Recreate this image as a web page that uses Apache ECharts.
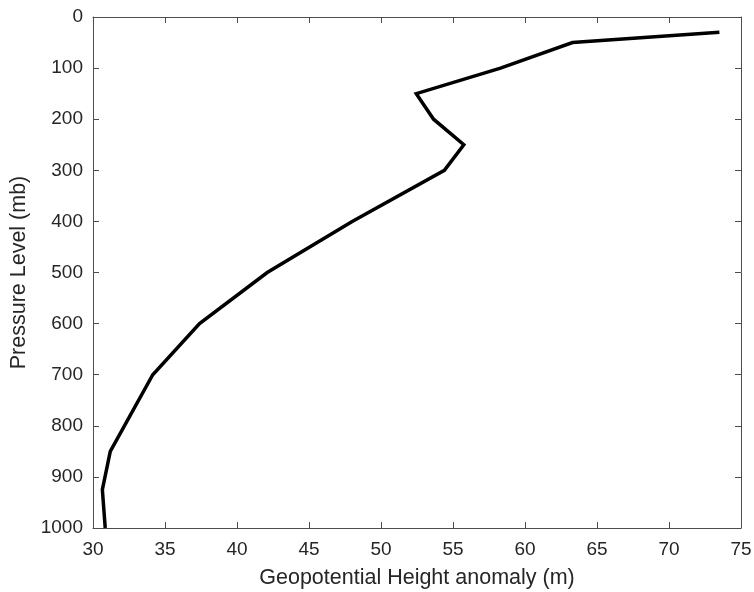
<!DOCTYPE html>
<html>
<head>
<meta charset="utf-8">
<script src="https://cdn.jsdelivr.net/npm/echarts@6/dist/echarts.min.js"></script>
<style>html,body{margin:0;padding:0;background:#fff}#c{width:754px;height:592px}</style>
</head>
<body>
<div id="c"></div>
<script>
const pressureLevels = [30, 50, 100, 150, 200, 250, 300, 400, 500, 600, 700, 850, 925, 1000];
const heightAnomaly = [73.5, 63.3, 58.3, 52.45, 53.65, 55.75, 54.4, 48.0, 42.1, 37.4, 34.15, 31.2, 30.65, 30.85];
const xTicks = [30, 35, 40, 45, 50, 55, 60, 65, 70, 75];
const yTicks = [0, 100, 200, 300, 400, 500, 600, 700, 800, 900, 1000];

const chart = echarts.init(document.getElementById('c'), null, {renderer: 'canvas'});
const font = '"Liberation Sans", Arial, Helvetica, sans-serif';
const axisColor = '#262626';
const lineStyle = {color: '#4d4d4d', width: 1};
const points = pressureLevels.map((p, i) => [heightAnomaly[i], p]);
const plain = v => String(v);

chart.setOption({
  animation: false,
  backgroundColor: '#fff',
  grid: {left: 93, right: 13, top: 17, bottom: 64, containLabel: false, outerBoundsMode: 'none'},
  xAxis: [{
    type: 'value', min: xTicks[0], max: xTicks[xTicks.length - 1], interval: 5,
    position: 'bottom',
    name: 'Geopotential Height anomaly (m)', nameLocation: 'middle', nameGap: 39,
    nameTextStyle: {fontFamily: font, fontSize: 21.5, color: axisColor},
    axisLine: {show: true, onZero: false, lineStyle},
    axisTick: {show: true, inside: true, length: 6, lineStyle},
    axisLabel: {fontFamily: font, fontSize: 19, color: axisColor, margin: 12, formatter: plain},
    splitLine: {show: false}
  }, {
    type: 'value', min: xTicks[0], max: xTicks[xTicks.length - 1], interval: 5,
    position: 'top',
    axisLine: {show: true, onZero: false, lineStyle},
    axisTick: {show: true, inside: true, length: 6, lineStyle},
    axisLabel: {show: false},
    splitLine: {show: false}
  }],
  yAxis: [{
    type: 'value', min: yTicks[0], max: yTicks[yTicks.length - 1], interval: 100, inverse: true,
    position: 'left',
    name: 'Pressure Level (mb)', nameLocation: 'middle', nameGap: 58, nameRotate: 90,
    nameTextStyle: {fontFamily: font, fontSize: 21.5, color: axisColor},
    axisLine: {show: true, onZero: false, lineStyle},
    axisTick: {show: true, inside: true, length: 6, lineStyle},
    axisLabel: {fontFamily: font, fontSize: 19, color: axisColor, margin: 10, formatter: plain},
    splitLine: {show: false}
  }, {
    type: 'value', min: yTicks[0], max: yTicks[yTicks.length - 1], interval: 100, inverse: true,
    position: 'right',
    axisLine: {show: true, onZero: false, lineStyle},
    axisTick: {show: true, inside: true, length: 6, lineStyle},
    axisLabel: {show: false},
    splitLine: {show: false}
  }],
  series: [{
    type: 'line',
    xAxisIndex: 0, yAxisIndex: 0,
    data: points,
    showSymbol: false,
    symbol: 'none',
    lineStyle: {color: '#000', width: 3.5, join: 'miter'},
    z: 5
  }]
});
</script>
</body>
</html>
